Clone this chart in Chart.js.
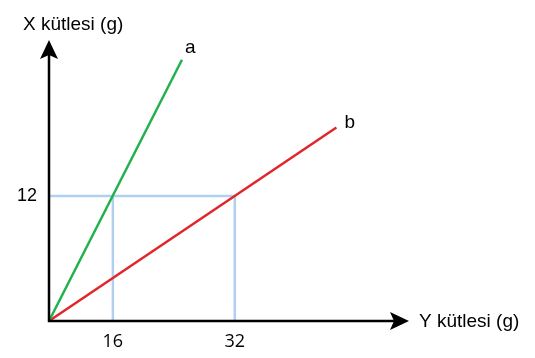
<!DOCTYPE html>
<html>
<head>
<meta charset="utf-8">
<script src="https://cdn.jsdelivr.net/npm/chart.js@4"></script>
<style>
    body { margin: 0; background: #fff; }
    #wrap { width: 535px; height: 358px; position: relative; }
</style>
</head>
<body>
<div id="wrap"><canvas id="myChart"></canvas></div>
<script>
// Veriler (cizim olcekli degil, noktalar resimdeki yerlerinden okundu)
const xTickValues = [11, 32];
const xTickLabels = ['16', '32'];
const yTickValues = [12];
const yTickLabels = ['12'];

const lineA = [{ x: 0, y: 0 }, { x: 22.9, y: 25.1 }];
const lineB = [{ x: 0, y: 0 }, { x: 49.5, y: 18.6 }];

const guideH = [{ x: 0, y: 12 }, { x: 32, y: 12 }];
const guide16 = [{ x: 11, y: 12 }, { x: 11, y: 0 }];
const guide32 = [{ x: 32, y: 12 }, { x: 32, y: 0 }];

const seriesNames = ['a', 'b'];
const xTitle = 'Y kütlesi (g)';
const yTitle = 'X kütlesi (g)';

function lineSet(data, color, width) {
    return {
        data: data,
        showLine: true,
        borderColor: color,
        backgroundColor: color,
        borderWidth: width,
        pointRadius: 0,
        pointHoverRadius: 0,
        clip: false
    };
}

// eksenler, oklar ve yazilar
const axesPlugin = {
    id: 'axesPlugin',
    afterDatasetsDraw(chart) {
        const ctx = chart.ctx;
        const xs = chart.scales.x;
        const ys = chart.scales.y;
        const ox = xs.getPixelForValue(0);
        const oy = ys.getPixelForValue(0);
        const top = chart.chartArea.top;
        const right = chart.chartArea.right;
        ctx.save();
        ctx.strokeStyle = '#000';
        ctx.fillStyle = '#000';
        ctx.lineWidth = 2.5;
        ctx.beginPath();
        ctx.moveTo(ox, top + 14);
        ctx.lineTo(ox, oy);
        ctx.lineTo(right - 14, oy);
        ctx.stroke();

        // y oku
        ctx.beginPath();
        ctx.moveTo(ox, top);
        ctx.lineTo(ox + 9, top + 19);
        ctx.lineTo(ox, top + 15);
        ctx.lineTo(ox - 9, top + 19);
        ctx.closePath();
        ctx.fill();
        // x oku
        ctx.beginPath();
        ctx.moveTo(right, oy);
        ctx.lineTo(right - 19, oy - 9);
        ctx.lineTo(right - 15, oy);
        ctx.lineTo(right - 19, oy + 9);
        ctx.closePath();
        ctx.fill();

        ctx.font = '19px "Liberation Sans", Arial, sans-serif';
        ctx.textBaseline = 'middle';
        ctx.textAlign = 'left';
        ctx.fillText(yTitle, ox - 26, top - 15);
        ctx.fillText(xTitle, right + 10, oy + 1);

        // seri adlari
        const ends = [lineA[lineA.length - 1], lineB[lineB.length - 1]];
        const offs = [[3, -12], [8, -5]];
        ends.forEach(function (p, i) {
            ctx.fillText(seriesNames[i],
                xs.getPixelForValue(p.x) + offs[i][0],
                ys.getPixelForValue(p.y) + offs[i][1]);
        });
        ctx.restore();
    }
};

const ctx = document.getElementById('myChart').getContext('2d');
const myChart = new Chart(ctx, {
    type: 'scatter',
    data: {
        datasets: [
            lineSet(lineA, '#22b14c', 2.5),
            lineSet(lineB, '#e1262a', 2.5),
            lineSet(guideH, '#b0d0f0', 2.5),
            lineSet(guide16, '#b0d0f0', 2.5),
            lineSet(guide32, '#b0d0f0', 2.5)
        ]
    },
    options: {
        responsive: true,
        maintainAspectRatio: false,
        animation: false,
        events: [],
        layout: {
            padding: { left: 0, top: 40, right: 126, bottom: 0 }
        },
        scales: {
            x: {
                type: 'linear',
                min: 0,
                max: 62,
                grid: { display: false, drawTicks: false },
                border: { display: false },
                afterBuildTicks: function (scale) {
                    scale.ticks = xTickValues.map(v => ({ value: v }));
                },
                afterFit: function (scale) {
                    scale.height = 37;
                },
                ticks: {
                    padding: 10,
                    color: '#000',
                    maxRotation: 0,
                    font: { family: '"Open Sans", sans-serif', size: 18 },
                    callback: function (value) {
                        const i = xTickValues.indexOf(value);
                        return i >= 0 ? xTickLabels[i] : '';
                    }
                }
            },
            y: {
                type: 'linear',
                min: 0,
                max: 27,
                grid: { display: false, drawTicks: false },
                border: { display: false },
                afterBuildTicks: function (scale) {
                    scale.ticks = yTickValues.map(v => ({ value: v }));
                },
                afterFit: function (scale) {
                    scale.width = 49;
                },
                ticks: {
                    padding: 12,
                    color: '#000',
                    font: { family: '"Liberation Sans", Arial, sans-serif', size: 18 },
                    callback: function (value) {
                        const i = yTickValues.indexOf(value);
                        return i >= 0 ? yTickLabels[i] : '';
                    }
                }
            }
        },
        plugins: {
            legend: { display: false },
            tooltip: { enabled: false }
        }
    },
    plugins: [axesPlugin]
});
</script>
</body>
</html>
